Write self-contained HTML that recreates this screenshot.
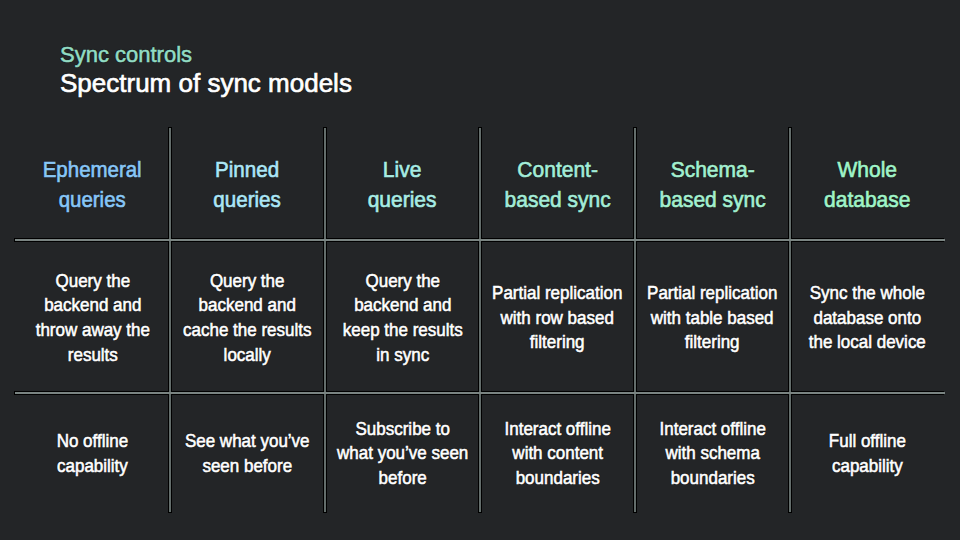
<!DOCTYPE html>
<html><head><meta charset="utf-8">
<style>
html,body{margin:0;padding:0;}
body{width:960px;height:540px;overflow:hidden;background:#232527;font-family:"Liberation Sans",sans-serif;position:relative;-webkit-font-smoothing:antialiased;}
.sub,.title,.cell{-webkit-text-stroke:0.6px currentColor;text-shadow:0 0 1px #000,0 0 1px #000;}
.cell.hd,.title{-webkit-text-stroke:0.7px currentColor;}
.sub{position:absolute;left:60px;top:42.5px;font-size:22px;color:#92dcc4;white-space:nowrap;line-height:24px;}
.title{position:absolute;left:60px;top:68px;font-size:26px;color:#ffffff;white-space:nowrap;line-height:30px;}
.vl{position:absolute;top:128px;height:384px;width:2px;background:#636d6b;}
.hl{position:absolute;left:15px;width:930px;height:2px;background:#7a8482;}
.vf{position:absolute;top:127px;height:386px;width:4px;background:#000;}
.hf{position:absolute;left:15px;width:930px;height:4px;background:#000;}
.cell{position:absolute;width:155px;display:flex;align-items:center;justify-content:center;text-align:center;}
.hd{top:128px;height:111px;padding-top:2px;box-sizing:border-box;font-size:22px;line-height:30px;}
.s{display:block;white-space:nowrap;}
.hd .s{transform:scaleX(0.9545);}
.r1 .s,.r2 .s{transform:scaleX(0.955);}
.r1{top:241px;height:151px;padding-top:3px;box-sizing:border-box;font-size:17.8px;line-height:24.6px;color:#fff;}
.r2{top:394px;height:118px;padding-top:1px;box-sizing:border-box;font-size:17.8px;line-height:24.6px;color:#fff;}
</style></head><body>
<div class="sub">Sync controls</div>
<div class="title">Spectrum of sync models</div>

<div class="vf" style="left:168px"></div>
<div class="vf" style="left:323px"></div>
<div class="vf" style="left:478px"></div>
<div class="vf" style="left:633px"></div>
<div class="vf" style="left:788px"></div>
<div class="hf" style="left:14px;top:238px"></div>
<div class="hf" style="left:14px;top:391px"></div>
<div class="vl" style="left:169px"></div>
<div class="vl" style="left:324px"></div>
<div class="vl" style="left:479px"></div>
<div class="vl" style="left:634px"></div>
<div class="vl" style="left:789px"></div>
<div class="hl" style="top:239px"></div>
<div class="hl" style="top:392px"></div>

<div class="cell hd" style="left:15px;color:#88c6f6"><span class="s" style="transform:scaleX(0.93)">Ephemeral<br>queries</span></div>
<div class="cell hd" style="left:170px;color:#ace6f6"><span class="s" style="transform:scaleX(0.935)">Pinned<br>queries</span></div>
<div class="cell hd" style="left:325px;color:#a8ece4"><span class="s">Live<br>queries</span></div>
<div class="cell hd" style="left:480px;color:#a4ecd8"><span class="s">Content-<br>based sync</span></div>
<div class="cell hd" style="left:635px;color:#a4f0d0"><span class="s">Schema-<br>based sync</span></div>
<div class="cell hd" style="left:790px;color:#a0f4c8"><span class="s">Whole<br>database</span></div>

<div class="cell r1" style="left:15px"><span class="s">Query the<br>backend and<br>throw away the<br>results</span></div>
<div class="cell r1" style="left:170px"><span class="s">Query the<br>backend and<br>cache the results<br>locally</span></div>
<div class="cell r1" style="left:325px"><span class="s">Query the<br>backend and<br>keep the results<br>in sync</span></div>
<div class="cell r1" style="left:480px"><span class="s">Partial replication<br>with row based<br>filtering</span></div>
<div class="cell r1" style="left:635px"><span class="s">Partial replication<br>with table based<br>filtering</span></div>
<div class="cell r1" style="left:790px"><span class="s">Sync the whole<br>database onto<br>the local device</span></div>

<div class="cell r2" style="left:15px"><span class="s">No offline<br>capability</span></div>
<div class="cell r2" style="left:170px"><span class="s">See what you’ve<br>seen before</span></div>
<div class="cell r2" style="left:325px"><span class="s">Subscribe to<br>what you’ve seen<br>before</span></div>
<div class="cell r2" style="left:480px"><span class="s">Interact offline<br>with content<br>boundaries</span></div>
<div class="cell r2" style="left:635px"><span class="s">Interact offline<br>with schema<br>boundaries</span></div>
<div class="cell r2" style="left:790px"><span class="s">Full offline<br>capability</span></div>
</body></html>
